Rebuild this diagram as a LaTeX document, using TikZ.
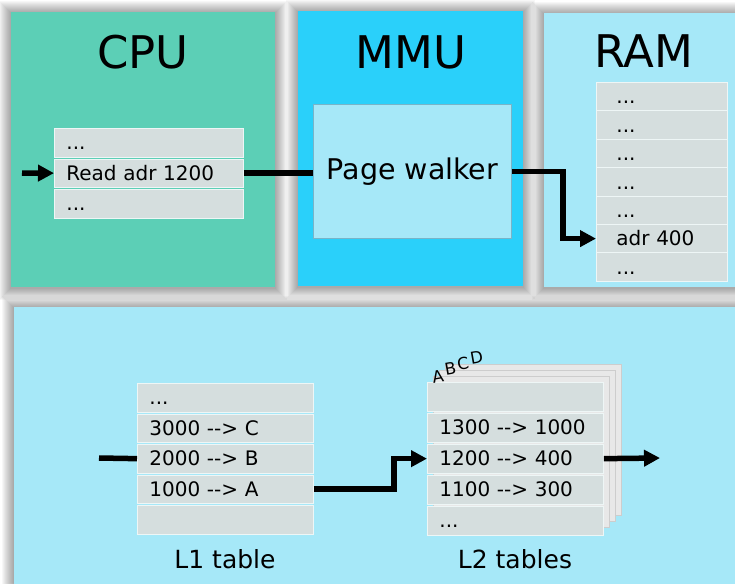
\documentclass[tikz,border=0pt]{standalone}
\usepackage{fontspec}
\setmainfont{DejaVu Sans}
\usetikzlibrary{arrows.meta}
\definecolor{cpuc}{RGB}{92,207,182}
\definecolor{mmuc}{RGB}{42,208,250}
\definecolor{lightc}{RGB}{166,232,248}
\definecolor{cellc}{RGB}{213,222,222}
\definecolor{cellb}{RGB}{238,246,246}
\definecolor{sheetc}{RGB}{232,232,232}
\definecolor{sheetb}{RGB}{205,205,205}
\definecolor{pwb}{RGB}{120,180,200}
\newcommand\maparrow{-\kern0pt-\kern0pt>}
\begin{document}
\begin{tikzpicture}[x=1pt,y=-1pt,
  panel/.style={anchor=north west, inner sep=0pt, draw=none},
  shade/.style={fill=black, opacity=0.03},
  title/.style={font=\fontsize{45pt}{50pt}\selectfont, inner sep=0pt},
  cell/.style={anchor=north west, fill=cellc, draw=cellb, line width=0.8pt,
    inner ysep=0pt, inner xsep=12pt, text width=152pt, align=left,
    minimum height=28.5pt, text height=14.6pt, text depth=0pt,
    font=\fontsize{20pt}{24pt}\selectfont},
  cpucell/.style={cell, text width=165pt},
  ramcell/.style={cell, inner xsep=20pt, text width=91pt, minimum height=28.4pt},
  conn/.style={line width=5.5pt},
  tip/.style={-{Triangle[length=16pt,width=16pt]}},
  sheet/.style={fill=sheetc, draw=sheetb, line width=0.8pt},
  lbl/.style={font=\fontsize{25pt}{30pt}\selectfont, inner sep=0pt},
  abc/.style={font=\fontsize{16.5pt}{18pt}\selectfont, inner sep=0pt, rotate=10}
]
\useasboundingbox (0,0) rectangle (735,583);
\clip (0,0) rectangle (735,583);
\fill[white] (0,0) rectangle (735,583);

% soft shadows
\foreach \i in {1,...,12}{
  \fill[shade] (11-\i,13-\i) rectangle (275+\i,288+\i);
  \fill[shade] (298-\i,12-\i) rectangle (523+\i,287+\i);
  \fill[shade] (544-\i,14-\i) rectangle (804+\i,288+\i);
  \fill[shade] (14-\i,308-\i) rectangle (814+\i,608+\i);
}

% panels
\node[panel, fill=cpuc, minimum width=264pt, minimum height=275pt] (cpu) at (11,12) {};
\node[panel, fill=mmuc, minimum width=225pt, minimum height=275pt] (mmu) at (298,11) {};
\node[panel, fill=lightc, minimum width=260pt, minimum height=274pt] (ram) at (544,13) {};
\node[panel, fill=lightc, minimum width=800pt, minimum height=300pt] (bot) at (14,307) {};

% titles
\node[title] (cput) at (143,52) {CPU};
\node[title] (mmut) at (411,52) {MMU};
\node[title] (ramt) at (644,51) {RAM};

% CPU cells
\node[cpucell] (c1) at (54,128) {...};
\node[cpucell] (c2) at (54,158.5) {Read adr 1200};
\node[cpucell] (c3) at (54,189) {...};

% page walker
\node[anchor=north west, fill=lightc, draw=pwb, line width=0.8pt,
  minimum width=198pt, minimum height=134pt, inner sep=0pt,
  font=\fontsize{28.5pt}{32pt}\selectfont] (pw) at (313,104) {Page walker};

% RAM cells
\node[ramcell] (r1) at (596,82) {...};
\node[ramcell] (r2) at (596,110.4) {...};
\node[ramcell] (r3) at (596,138.8) {...};
\node[ramcell] (r4) at (596,167.2) {...};
\node[ramcell] (r5) at (596,195.6) {...};
\node[ramcell] (r6) at (596,224) {adr 400};
\node[ramcell] (r7) at (596,252.4) {...};

% L1 table
\node[cell] (a1) at (137,383) {...};
\node[cell] (a2) at (137,413.5) {3000 \maparrow{} C};
\node[cell] (a3) at (137,444) {2000 \maparrow{} B};
\node[cell] (a4) at (137,474.5) {1000 \maparrow{} A};
\node[cell] (a5) at (137,505) {};
\node[lbl] (l1lbl) at (225,559) {L1 table};

% L2 sheets
\foreach \k in {3,2,1}{
  \path[sheet] (427+6*\k,382-6*\k) rectangle ++(176,151);
}
\node[cell] (b1) at (427,382) {};
\node[cell] (b2) at (427,413) {1300 \maparrow{} 1000};
\node[cell] (b3) at (427,444) {1200 \maparrow{} 400};
\node[cell] (b4) at (427,475) {1100 \maparrow{} 300};
\node[cell] (b5) at (427,506) {...};
\node[lbl] (l2lbl) at (515,559) {L2 tables};
\node[abc] (la) at (438,376.5) {A};
\node[abc] (lb) at (450.5,369) {B};
\node[abc] (lc) at (463,363.5) {C};
\node[abc] (ld) at (476.5,357.5) {D};

% connectors
\coordinate (cin) at (22,173);
\draw[conn,tip] (cin) -- (c2.west);
\draw[conn] (c2.east) -- (c2.east -| pw.west);
\draw[conn,tip] (pw.east) -- ++(51,0) |- (r6.west);
\coordinate (lin) at (99,458);
\draw[conn] (lin) -- (a3.west);
\draw[conn,tip] (a4.east) -- ++(80,0) |- (b3.west);
\coordinate (lout) at (660,458);
\draw[conn,tip] (b3.east) -- (lout);
\end{tikzpicture}
\end{document}
